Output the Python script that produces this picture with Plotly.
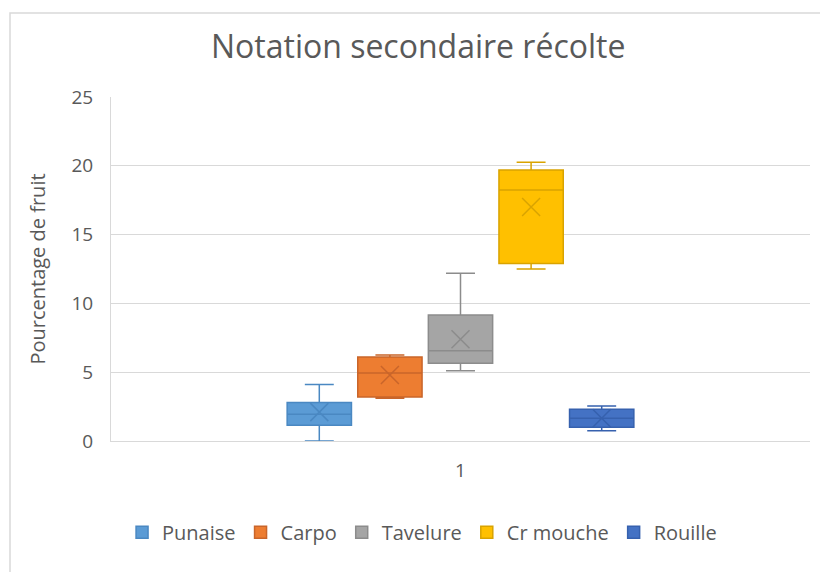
import plotly.graph_objects as go

# statistics (percent of fruit)
series = ['Punaise', 'Carpo', 'Tavelure', 'Cr mouche', 'Rouille']
lower = [0.0, 3.1, 5.1, 12.5, 0.75]
q1 = [1.15, 3.2, 5.65, 12.9, 1.0]
median = [1.95, 4.95, 6.55, 18.25, 1.65]
q3 = [2.8, 6.1, 9.15, 19.7, 2.3]
upper = [4.1, 6.25, 12.2, 20.25, 2.55]
mean = [2.1, 4.8, 7.4, 17.0, 1.65]

fill_colors = ['#5B9BD5', '#ED7D31', '#A5A5A5', '#FFC000', '#4472C4']
line_colors = ['#4A88C2', '#C9652A', '#8C8C8C', '#D9A300', '#3661AE']

font_family = 'Open Sans'
text_color = '#595959'

fig = go.Figure()

n = len(series)
step = 0.101
for i, name in enumerate(series):
    pos = (i - (n - 1) / 2) * step
    fig.add_trace(
        go.Box(x=[pos],
               q1=[q1[i]], median=[median[i]], q3=[q3[i]],
               lowerfence=[lower[i]], upperfence=[upper[i]],
               name=name,
               width=0.092,
               whiskerwidth=0.45,
               fillcolor=fill_colors[i],
               line=dict(color=line_colors[i], width=1.5),
               boxpoints=False,
               hoverinfo='y',
        )
    )
    # mean shown as an X like in Excel
    fig.add_trace(
        go.Scatter(x=[pos], y=[mean[i]],
                   mode='markers',
                   marker=dict(symbol='x-thin', size=18,
                               line=dict(color=line_colors[i], width=1.5)),
                   showlegend=False,
                   hovertemplate=f'{name} moyenne: %{{y:.2f}}<extra></extra>',
        )
    )

fig.update_layout(
    width=820, height=572,
    paper_bgcolor='white',
    plot_bgcolor='white',
    title=dict(text='Notation secondaire récolte',
               x=0.51, xanchor='center', y=0.918, yanchor='middle',
               font=dict(family=font_family, size=32, color=text_color)),
    margin=dict(t=97, b=131, l=111, r=10),
    showlegend=True,
    legend=dict(
        orientation='h',
        x=0.445, xanchor='center',
        y=-0.265, yanchor='middle',
        font=dict(family=font_family, size=20, color=text_color),
        itemwidth=30,
    ),
    xaxis=dict(range=[-0.5, 0.5], tickvals=[0], ticktext=['1'],
               showgrid=False, zeroline=False,
               showline=True, linecolor='#D9D9D9', linewidth=1,
               tickfont=dict(family=font_family, size=19, color=text_color),
               ticks='outside', ticklen=12, tickcolor='white'),
    yaxis=dict(range=[0, 25], dtick=5,
               showgrid=True, gridcolor='#D9D9D9', gridwidth=1,
               zeroline=False,
               showline=True, linecolor='#D9D9D9', linewidth=1,
               title=dict(text='Pourcentage de fruit', standoff=20,
                          font=dict(family=font_family, size=20, color=text_color)),
               tickfont=dict(family=font_family, size=19, color=text_color),
               ticks='outside', ticklen=13, tickcolor='white'),
    shapes=[dict(type='rect', xref='paper', yref='paper',
                 x0=-0.1445, x1=1.5, y0=-1.0, y1=1.244,
                 line=dict(color='#D9D9D9', width=1.5),
                 layer='below')],
)

# no page margin so the figure sits at the window origin
fig.write_html("out.html", config={'displayModeBar': False},
               post_script="document.body.style.margin='0';")
